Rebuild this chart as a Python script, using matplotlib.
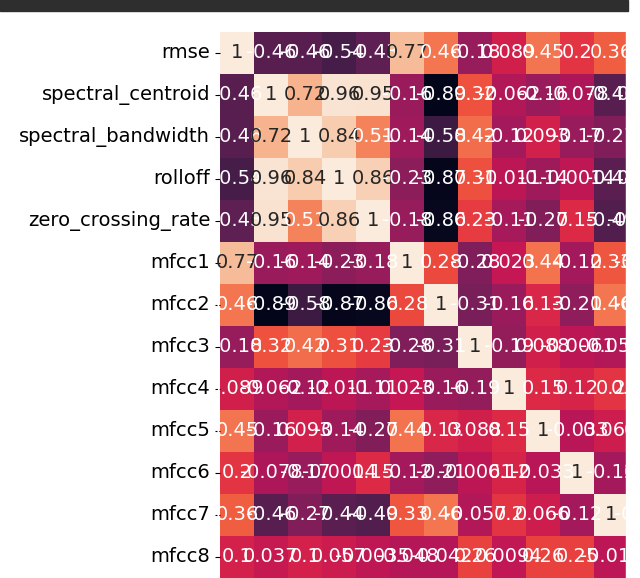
import numpy as np
import pandas as pd
import seaborn as sns
import matplotlib.pyplot as plt
from matplotlib.patches import Rectangle

features = ["rmse", "spectral_centroid", "spectral_bandwidth", "rolloff",
            "zero_crossing_rate", "mfcc1", "mfcc2", "mfcc3", "mfcc4",
            "mfcc5", "mfcc6", "mfcc7", "mfcc8"]

# upper triangle of the correlation matrix, row by row (diagonal = 1)
rmse_row = [1, -0.46, -0.46, -0.54, -0.43, 0.77, 0.46, -0.18, 0.089, 0.45, 0.2, 0.36, 0.1]
centroid_row = [1, 0.72, 0.96, 0.95, -0.16, -0.89, 0.32, -0.062, -0.16, -0.078, -0.46, 0.037]
bandwidth_row = [1, 0.84, 0.51, -0.14, -0.58, 0.42, -0.12, 0.093, -0.17, -0.27, 0.1]
rolloff_row = [1, 0.86, -0.23, -0.87, 0.31, -0.011, -0.14, -0.0014, -0.44, 0.057]
zcr_row = [1, -0.18, -0.86, 0.23, -0.11, -0.27, 0.15, -0.49, -0.0035]
mfcc1_row = [1, 0.28, -0.28, 0.023, 0.44, -0.12, 0.33, -0.048]
mfcc2_row = [1, -0.31, -0.16, 0.13, -0.21, 0.46, -0.042]
mfcc3_row = [1, -0.19, 0.088, -0.0061, -0.057, 0.26]
mfcc4_row = [1, 0.15, 0.12, 0.2, 0.0094]
mfcc5_row = [1, -0.033, 0.066, 0.26]
mfcc6_row = [1, -0.12, 0.25]
mfcc7_row = [1, -0.013]
mfcc8_row = [1]

rows = [rmse_row, centroid_row, bandwidth_row, rolloff_row, zcr_row,
        mfcc1_row, mfcc2_row, mfcc3_row, mfcc4_row, mfcc5_row,
        mfcc6_row, mfcc7_row, mfcc8_row]

n = len(features)
corr = np.zeros((n, n))
for i, r in enumerate(rows):
    corr[i, i:] = r
    corr[i:, i] = r
corr = pd.DataFrame(corr, index=features, columns=features)

fig = plt.figure(figsize=(6.4, 5.78), dpi=100)
# the screenshot only shows the top-left part of a bigger heatmap
ax = fig.add_axes([220 / 640, 0.0, 13 * 34 / 640, 1 - 32 / 578])
sns.heatmap(corr, annot=True, cbar=False, ax=ax,
            annot_kws={"fontsize": 14},
            xticklabels=features, yticklabels=features)
ax.tick_params(axis="y", labelsize=14, rotation=0)
ax.tick_params(axis="x", labelbottom=False)

# crop edge on the right and notebook bar on top
fig.add_artist(Rectangle((626 / 640, 0), 1, 1, transform=fig.transFigure,
                         color="white", zorder=10))
fig.add_artist(Rectangle((0, 1 - 11 / 578), 628 / 640, 11 / 578,
                         transform=fig.transFigure, color="#2e2e2e", zorder=11))

fig.savefig("out.png", dpi=100)
